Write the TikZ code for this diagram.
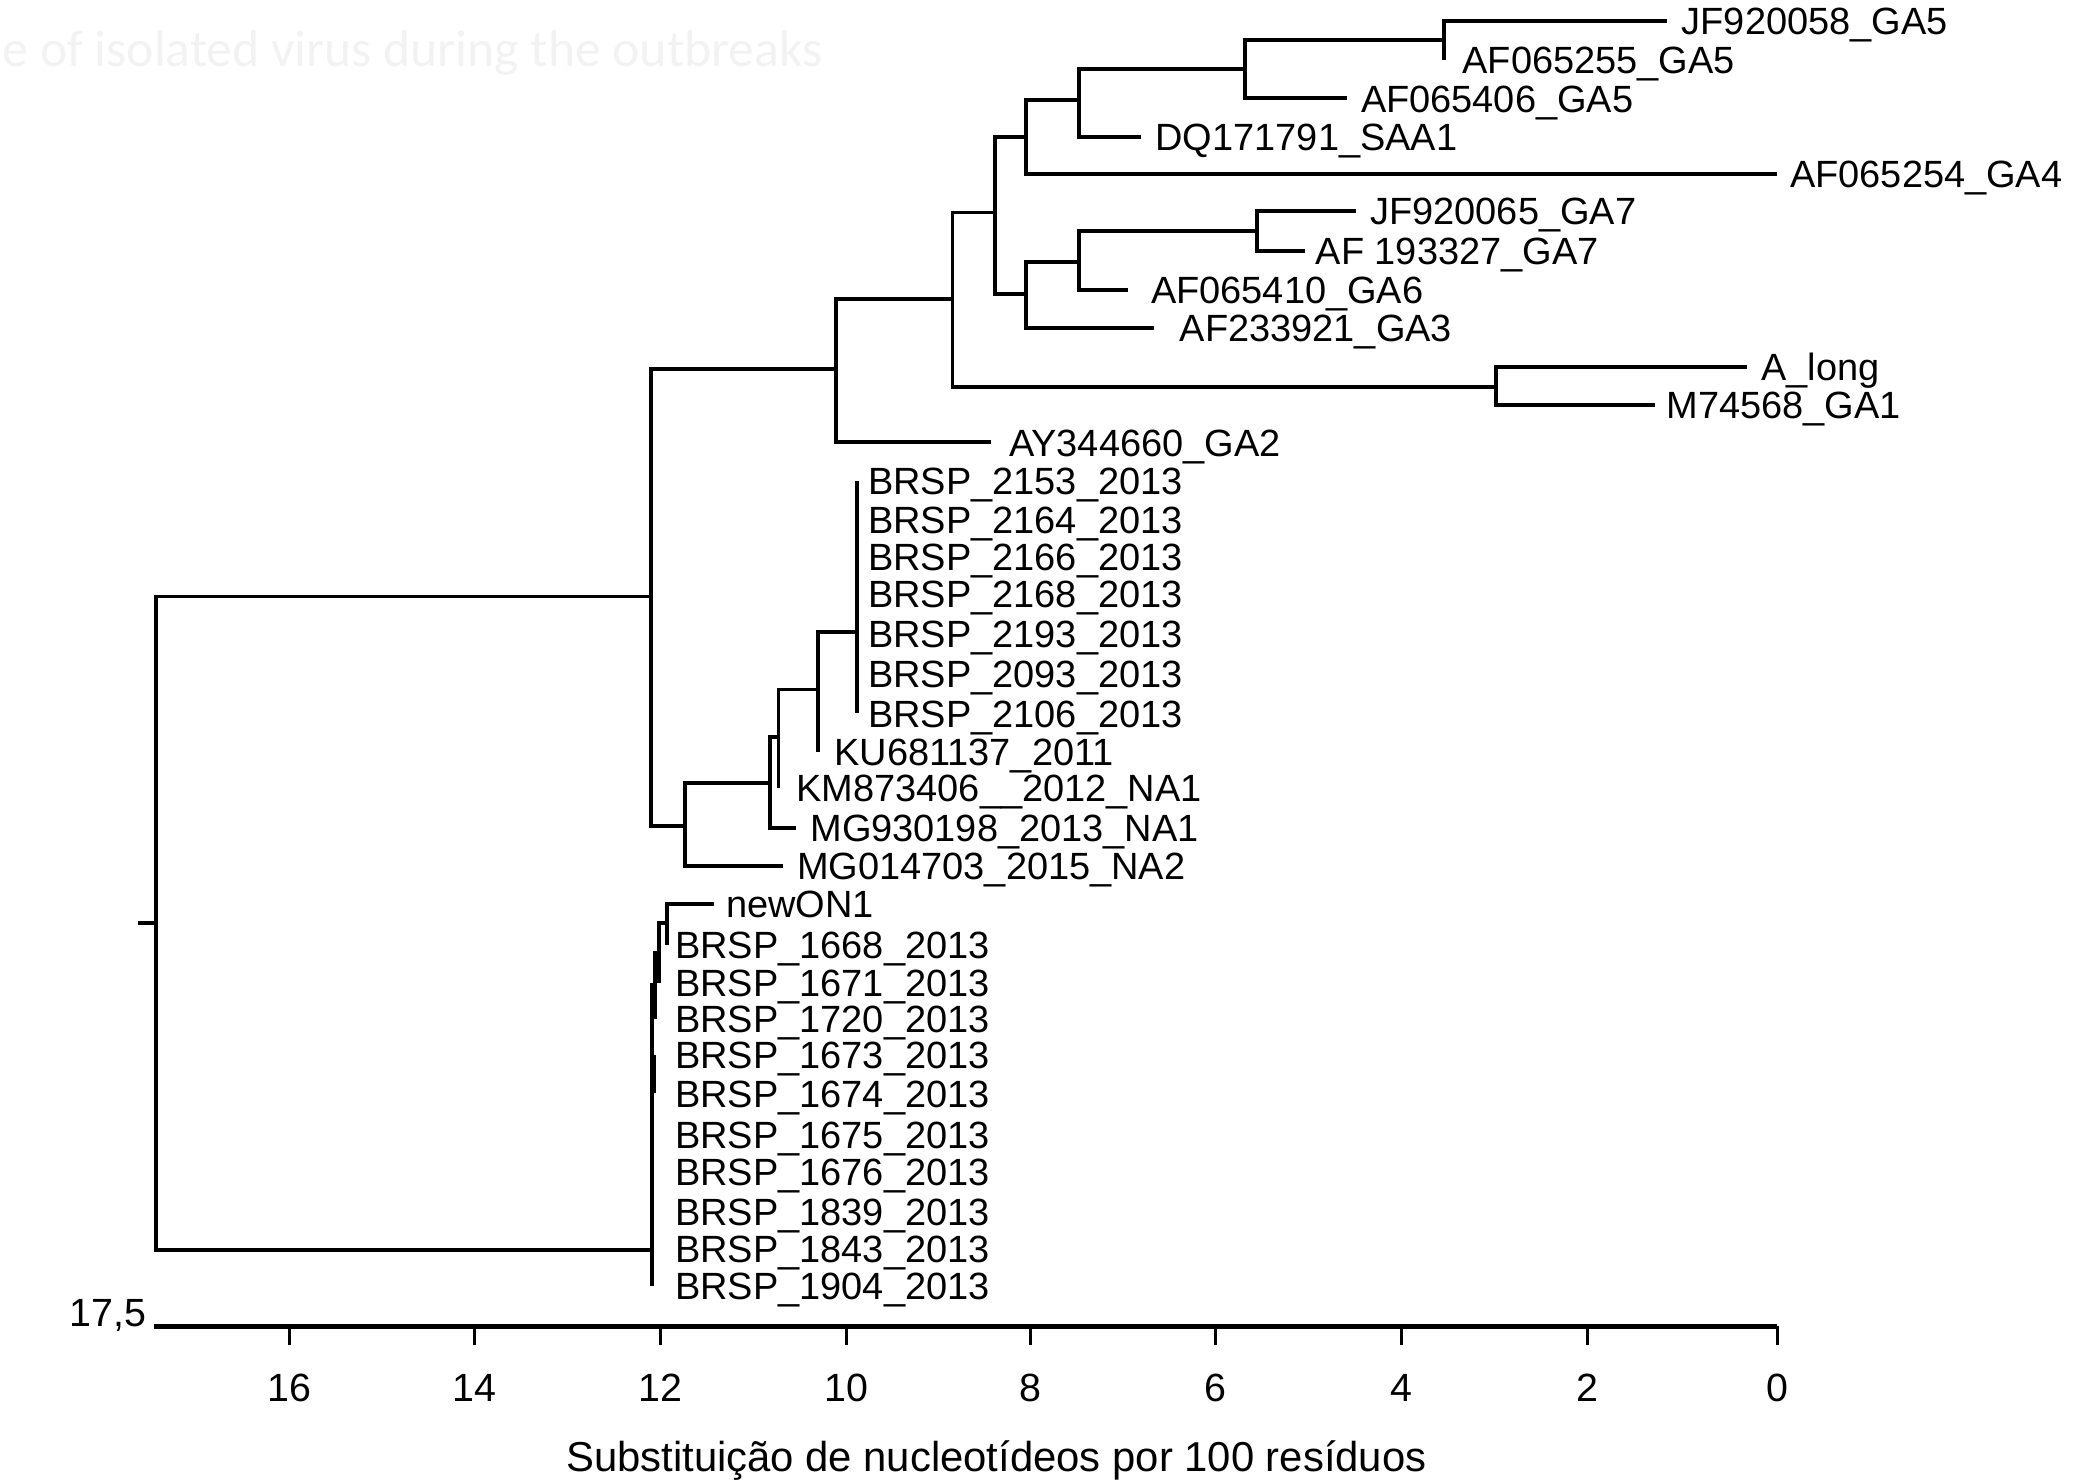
\documentclass[tikz,border=0pt]{standalone}
\usepackage{fontspec}
\setmainfont{Liberation Sans}
\newfontfamily\notefont{Carlito}

\begin{document}
\begin{tikzpicture}[x=0.13284mm, y=-0.13284mm,
    leaf/.style={anchor=west, inner xsep=#1, inner ysep=0pt, text height=7.8pt, text depth=0pt,
                 font=\fontsize{10.8}{13}\selectfont},
    leaf/.default=1.33mm,
    ticklabel/.style={anchor=base, inner sep=0pt, font=\fontsize{11.2}{13}\selectfont}]
\useasboundingbox (0,0) rectangle (1568,1116);

% faint caption fragment
\node[anchor=base west, inner sep=0pt, text=black!5, font=\notefont\fontsize{14.7}{17}\selectfont] (note) at (1.5,50) {e of isolated virus during the outbreaks};

% internal nodes
\coordinate (root) at (117.5,695);
\coordinate (rootstub) at (104,695);
\coordinate (top) at (490,449);
\coordinate (ga) at (629,278);
\coordinate (ga1) at (717,225);
\coordinate (ga2) at (749,160);
\coordinate (ga3) at (772,103);
\coordinate (ga4) at (812,75);
\coordinate (ga5) at (937,52);
\coordinate (ga6) at (1087,30);
\coordinate (ga7) at (772,221);
\coordinate (ga8) at (812,197);
\coordinate (ga9) at (946,174);
\coordinate (ga10) at (1126,291);
\coordinate (na) at (515.5,621.5);
\coordinate (na1) at (579.5,589.5);
\coordinate (na2) at (586,555);
\coordinate (na3) at (615.5,519);
\coordinate (na4) at (645,475.5);
\coordinate (on1) at (490.5,941);
\coordinate (on1a) at (493,741.5);
\coordinate (on1b) at (496,717.5);
\coordinate (on1c) at (502,695);
\coordinate (on1d) at (492,811);

% leaves
\node[leaf=1.39mm] (jf58) at (1255,16) {JF920058\_GA5};
\node[leaf=1.79mm] (af255) at (1087,45) {AF065255\_GA5};
\node[leaf] (af406) at (1014,74) {AF065406\_GA5};
\node[leaf=1.37mm] (dq791) at (859,103) {DQ171791\_SAA1};
\node[leaf=1.2mm] (af254) at (1338,131) {AF065254\_GA4};
\node[leaf] (jf65) at (1021,159) {JF920065\_GA7};
\node[leaf=1.06mm] (af327) at (982,189) {AF 193327\_GA7};
\node[leaf=2.26mm] (af410) at (849,218) {AF065410\_GA6};
\node[leaf=2.47mm] (af921) at (869,247) {AF233921\_GA3};
\node[leaf=1.39mm] (along) at (1315,276) {A\_long};
\node[leaf=1.06mm] (m74) at (1246,305) {M74568\_GA1};
\node[leaf=1.73mm] (ay660) at (746,333) {AY344660\_GA2};
\foreach \n/\y in {2153/362,2164/391,2166/419,2168/447,2193/477,2093/507,2106/537}
  \node[leaf=1.06mm] (b\n) at (645,\y) {BRSP\_\n\_2013};
\node[leaf=1.6mm] (ku137) at (615.5,566) {KU681137\_2011};
\node[leaf=1.73mm] (km406) at (586,593) {KM873406\_\_2012\_NA1};
\node[leaf] (mg198) at (599.5,623) {MG930198\_2013\_NA1};
\node[leaf] (mg703) at (589.5,652) {MG014703\_2015\_NA2};
\node[leaf=1.14mm] (newon) at (537.5,680.5) {newON1};
\node[leaf=0.76mm] (b1668) at (502,711) {BRSP\_1668\_2013};
\node[leaf=1.55mm] (b1671) at (496,740) {BRSP\_1671\_2013};
\node[leaf=1.95mm] (b1720) at (493,767) {BRSP\_1720\_2013};
\node[leaf=2.09mm] (b1673) at (492,794) {BRSP\_1673\_2013};
\node[leaf=2.09mm] (b1674) at (492,823) {BRSP\_1674\_2013};
\foreach \n/\y in {1675/854,1676/882,1839/912,1843/940,1904/968}
  \node[leaf=2.29mm] (b\n) at (490.5,\y) {BRSP\_\n\_2013};

% branches
\begin{scope}[every edge/.style={draw=black, line width=1.1pt, to path={|- (\tikztotarget)}}]
  \path (root) edge (top) edge (on1);
  \draw[line width=1.1pt] (root) -- (rootstub);
  \path (top) edge (ga) edge (na);
  \path (ga) edge (ga1) edge (ay660.west);
  \path (ga1) edge (ga2) edge (ga10);
  \path (ga2) edge (ga3) edge (ga7);
  \path (ga3) edge (ga4) edge (af254.west);
  \path (ga4) edge (ga5) edge (dq791.west);
  \path (ga5) edge (ga6) edge (af406.west);
  \path (ga6) edge (jf58.west) edge (af255.west);
  \path (ga7) edge (ga8) edge (af921.west);
  \path (ga8) edge (ga9) edge (af410.west);
  \path (ga9) edge (jf65.west) edge (af327.west);
  \path (ga10) edge (along.west) edge (m74.west);
  \path (na) edge (na1) edge (mg703.west);
  \path (na1) edge (na2) edge (mg198.west);
  \path (na2) edge (na3) edge (km406.west);
  \path (na3) edge (na4) edge (ku137.west);
  \foreach \n in {2153,2164,2166,2168,2193,2093,2106}
    \path (na4) edge (b\n.west);
  \path (on1) edge (on1a) edge (on1d);
  \foreach \n in {1675,1676,1839,1843,1904}
    \path (on1) edge (b\n.west);
  \path (on1a) edge (on1b) edge (b1720.west);
  \path (on1b) edge (on1c) edge (b1671.west);
  \path (on1c) edge (newon.west) edge (b1668.west);
  \path (on1d) edge (b1673.west) edge (b1674.west);
\end{scope}

% scale axis
\coordinate (axl) at (116,998.5);
\coordinate (axr) at (1338,998.5);
\draw[line width=1.2pt] (axl) -- (axr);
\node[anchor=base east, inner sep=0pt, font=\fontsize{11.2}{13}\selectfont] (axmax) at (110.5,998.5) {17,5};
\foreach \x/\t in {218/16,357/14,497/12,637/10,776/8,915/6,1055/4,1195/2,1338/0} {
  \draw[line width=0.9pt] (\x,998.5) -- (\x,1012.5);
  \node[ticklabel] (tick\t) at (\x,1055) {\t};
}
\node[anchor=base, inner sep=0pt, font=\fontsize{11.9}{14}\selectfont] (xtitle) at (750,1108) {Substituição de nucleotídeos por 100 resíduos};
\end{tikzpicture}
\end{document}
